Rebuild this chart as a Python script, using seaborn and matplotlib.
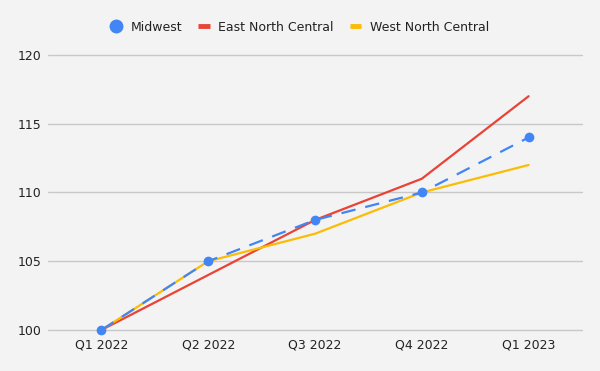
import numpy as np
import pandas as pd
import seaborn as sns
import matplotlib.pyplot as plt
from matplotlib.lines import Line2D

quarters = ["Q1 2022", "Q2 2022", "Q3 2022", "Q4 2022", "Q1 2023"]
midwest = [100, 105, 108, 110, 114]
east_nc = [100, 104, 108, 111, 117]
west_nc = [100, 105, 107, 110, 112]

blue = "#4285F4"
red = "#EA4335"
yellow = "#FBBC04"
bg = "#f3f3f3"

sns.set_theme(style="white")
plt.rcParams['font.family'] = ['DejaVu Sans']

fig = plt.figure(figsize=(6, 3.71), dpi=100, facecolor=bg)
ax = fig.add_axes([0.08, 0.1105, 0.89, 0.7413])
ax.set_facecolor(bg)

x = np.arange(len(quarters))
sns.lineplot(x=x, y=east_nc, color=red, linewidth=1.6, ax=ax, zorder=3)
sns.lineplot(x=x, y=west_nc, color=yellow, linewidth=1.6, ax=ax, zorder=3)
sns.lineplot(x=x, y=midwest, color=blue, linewidth=1.6, ax=ax, zorder=4,
             marker="o", markersize=7, markeredgewidth=0, dashes=False,
             linestyle=(0, (6.5, 4.5)), clip_on=False)

ax.set_xlim(-0.5, 4.5)
ax.set_ylim(100, 120)
ax.set_yticks([100, 105, 110, 115, 120])
ax.set_xticks(x)
ax.set_xticklabels(quarters)
ax.yaxis.grid(True, color="#c8c8c8", linewidth=1)
for gl in ax.get_ygridlines():
    gl.set_clip_on(False)
ax.set_axisbelow(True)
for s in ax.spines.values():
    s.set_visible(False)
ax.tick_params(axis="both", length=0, labelsize=9, labelcolor="#222222")
ax.tick_params(axis="y", pad=5)
ax.tick_params(axis="x", pad=6)
ax.set_xlabel("")
ax.set_ylabel("")

handles = [
    Line2D([], [], color=blue, marker="o", linestyle="none", markersize=9),
    Line2D([], [], color=red, linewidth=3.5, solid_capstyle="butt"),
    Line2D([], [], color=yellow, linewidth=3.5, solid_capstyle="butt"),
]
leg = fig.legend(handles, ["Midwest", "East North Central", "West North Central"],
                 loc="center", bbox_to_anchor=(0.5, 0.927), ncol=3, frameon=False,
                 fontsize=9, handlelength=0.9, handletextpad=0.7, columnspacing=1.3)
for t in leg.get_texts():
    t.set_color("#222222")

fig.savefig("out.png", dpi=100, facecolor=bg)
